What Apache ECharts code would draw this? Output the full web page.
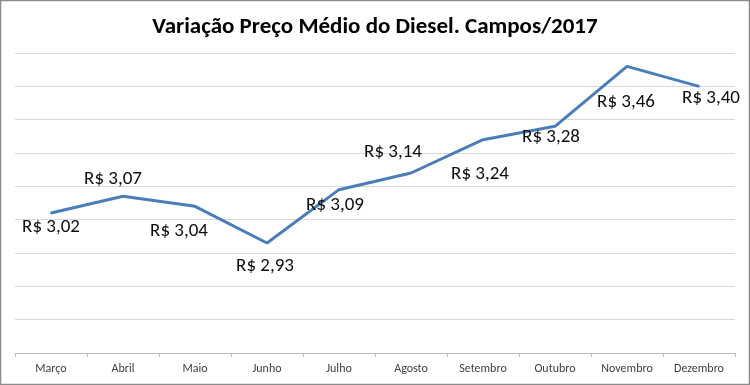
<!DOCTYPE html>
<html>
<head>
<meta charset="utf-8">
<script src="https://cdn.jsdelivr.net/npm/echarts@6/dist/echarts.min.js"></script>
<style>
html,body{margin:0;padding:0;background:#fff;}
#c{width:750px;height:385px;}
</style>
</head>
<body>
<div id="c"></div>
<script>
const categories = ['Março','Abril','Maio','Junho','Julho','Agosto','Setembro','Outubro','Novembro','Dezembro'];
const prices = [3.02, 3.07, 3.04, 2.93, 3.09, 3.14, 3.24, 3.28, 3.46, 3.40];
const titleText = 'Variação Preço Médio do Diesel. Campos/2017';

// label placement (style only)
const labelOffsets = [[0,14],[-10,-17],[-16,25],[-2,23],[-4,16],[-18,-21],[-3,35],[-4,11],[-1,36],[12,12]];

const fontFam = "Carlito, 'Open Sans', sans-serif";
const chart = echarts.init(document.getElementById('c'), null, {renderer:'canvas'});
chart.setOption({
  backgroundColor:'#fff',
  animation:false,
  title:{
    text:titleText, left:'center', top:11,
    textStyle:{fontFamily:fontFam, fontSize:23, fontWeight:'bold', color:'#000'}
  },
  graphic:[{type:'rect', shape:{x:0.5,y:0.5,width:749,height:384}, style:{fill:'none', stroke:'#8c8c8c', lineWidth:1.5}, silent:true}],
  grid:{left:15,right:15,top:53,bottom:32,containLabel:false},
  xAxis:{
    type:'category', data:categories, boundaryGap:true,
    axisLine:{lineStyle:{color:'#bfbfbf',width:1}},
    axisTick:{show:true, interval:0, length:4, lineStyle:{color:'#bfbfbf'}},
    axisLabel:{interval:0, margin:10, fontFamily:fontFam, fontSize:12, color:'#404040'}
  },
  yAxis:{
    type:'value', min:2.6, max:3.5, interval:0.1,
    axisLabel:{show:false}, axisLine:{show:false}, axisTick:{show:false},
    splitLine:{lineStyle:{color:'#d9d9d9',width:1}}
  },
  series:[{
    type:'line',
    data: prices.map((v,i)=>({
      value:v,
      label:{offset:labelOffsets[i]}
    })),
    showSymbol:true, symbol:'circle', symbolSize:2,
    lineStyle:{color:'#4a7ebb', width:3},
    itemStyle:{color:'#4a7ebb'},
    label:{
      show:true, position:'inside',
      fontFamily:fontFam, fontSize:19, color:'#0d0d0d',
      formatter:p=>'R$ '+p.value.toFixed(2).replace('.',',')
    }
  }]
});
</script>
</body>
</html>
